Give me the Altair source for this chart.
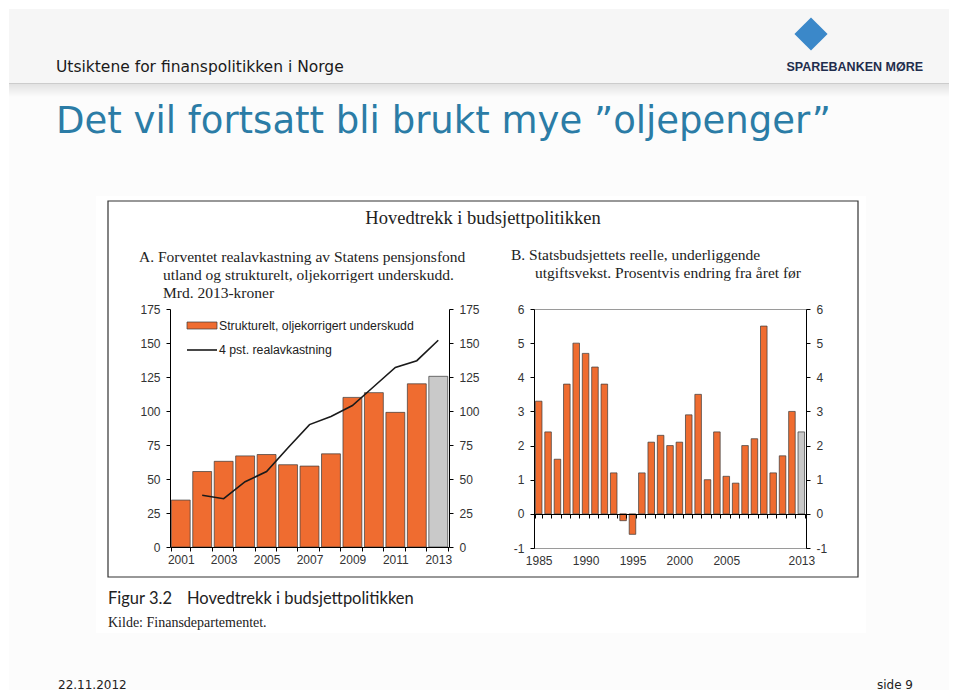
import altair as alt
import pandas as pd

# ---------------- data ----------------
years_a = list(range(2001, 2014))
deficit = [34.5, 55.5, 63, 67, 68, 60.5, 59.5, 68.5, 110, 113.5, 99, 120, 125.5]
kind_a = ["hist"] * 12 + ["proj"]
line_years = list(range(2002, 2014))
real_return = [38, 35.5, 48, 55.5, 73, 90, 96, 104, 118, 132, 137, 152]

years_b = list(range(1985, 2014))
growth = [3.3, 2.4, 1.6, 3.8, 5.0, 4.7, 4.3, 3.8, 1.2, -0.2, -0.6, 1.2, 2.1, 2.3,
          2.0, 2.1, 2.9, 3.5, 1.0, 2.4, 1.1, 0.9, 2.0, 2.2, 5.5, 1.2, 1.7, 3.0, 2.4]
kind_b = ["hist"] * 28 + ["proj"]

ticks_a = [0, 25, 50, 75, 100, 125, 150, 175]
ticks_b = [-1, 0, 1, 2, 3, 4, 5, 6]
labels_b = [1985, 1990, 1995, 2000, 2005, 2013]

header = "Utsiktene for finanspolitikken i Norge"
slide_title = "Det vil fortsatt bli brukt mye \u201doljepenger\u201d"
fig_title = "Hovedtrekk i budsjettpolitikken"
a_lines = ["A. Forventet realavkastning av Statens pensjonsfond",
           "utland og strukturelt, oljekorrigert underskudd.",
           "Mrd. 2013-kroner"]
b_lines = ["B. Statsbudsjettets reelle, underliggende",
           "utgiftsvekst. Prosentvis endring fra \u00e5ret f\u00f8r"]
legend_labels = ["Strukturelt, oljekorrigert underskudd", "4 pst. realavkastning"]
caption_1 = "Figur 3.2"
caption_2 = "Hovedtrekk i budsjettpolitikken"
source = "Kilde: Finansdepartementet."
footer_date = "22.11.2012"
footer_page = "side 9"
logo = "SPAREBANKEN M\u00d8RE"

df_a = pd.DataFrame({"year": years_a, "value": deficit, "kind": kind_a})
df_line = pd.DataFrame({"year": line_years, "value": real_return})
df_b = pd.DataFrame({"year": years_b, "value": growth, "kind": kind_b})
one = pd.DataFrame({"k": [0]})

# ---------------- styling / layout ----------------
ORANGE = "#EF6C30"
GRAY = "#C9C9C9"
EDGE = "#3a3a3a"
BLUE = "#2b7ca6"
SANS = "Liberation Sans"
SERIF = "Liberation Serif"
SLIDE = "DejaVu Sans"

OX, OY = 169, 308          # page position of panel A's plot origin
A_W, A_H = 279, 238
B_W, B_H = 272, 239
GAP = 85

color_scale = alt.Scale(domain=["hist", "proj"], range=[ORANGE, GRAY])


def vx(x):
    return alt.value(x - OX)


def vy(y):
    return alt.value(y - OY)


def txt(s, x, y, size, font, color="#222222", align="left", weight="normal"):
    return alt.Chart(one).mark_text(
        text=s, align=align, baseline="alphabetic", font=font,
        fontSize=size, color=color, fontWeight=weight
    ).encode(x=vx(x), y=vy(y))


def box(x1, y1, x2, y2, **kw):
    return alt.Chart(one).mark_rect(**kw).encode(
        x=vx(x1), x2=vx(x2), y=vy(y1), y2=vy(y2))


def hline(x1, x2, y, **kw):
    return alt.Chart(one).mark_rule(**kw).encode(x=vx(x1), x2=vx(x2), y=vy(y))


shadow = alt.LinearGradient(
    gradient="linear",
    stops=[alt.GradientStop(color="#e2e2e2", offset=0),
           alt.GradientStop(color="#fcfcfc", offset=1)],
    x1=0, x2=0, y1=0, y2=1)

decor_back = [
    box(8, 8, 948, 689, color="#fcfcfc"),
    box(8, 8, 948, 82, color="#f6f6f6"),
    box(8, 83, 948, 96, color=shadow),
    hline(8, 948, 82.5, color="#cccccc", strokeWidth=1),
    box(95, 195, 865, 632, color="#ffffff"),
    box(107, 200, 857, 576, fillOpacity=0, stroke="#333333", strokeWidth=1.2),
]

logo_icon = alt.Chart(one).mark_point(
    shape="diamond", filled=True, color="#3b88c9", size=1100, opacity=1
).encode(x=vx(810), y=vy(33))

decor_text = [
    txt(header, 55, 71, 15.5, SLIDE, color="#1a1a1a"),
    txt(slide_title, 55, 132, 37, SLIDE, color=BLUE),
    logo_icon,
    txt(logo, 922, 70, 12.5, SANS, color="#1f2d4d", align="right", weight="bold"),
    txt(fig_title, 482, 223, 18.5, SERIF, align="center"),
    txt(a_lines[0], 138, 261, 15.5, SERIF),
    txt(a_lines[1], 162, 279, 15.5, SERIF),
    txt(a_lines[2], 162, 297, 15.5, SERIF),
    txt(b_lines[0], 510, 259, 15.5, SERIF),
    txt(b_lines[1], 534, 277, 15.5, SERIF),
    txt(caption_1, 107, 603, 16.5, "Lato"),
    txt(caption_2, 186, 603, 16.5, "Lato"),
    txt(source, 107, 626, 14, SERIF),
    txt(footer_date, 57, 688, 12, SLIDE, color="#222222"),
    txt(footer_page, 912, 688, 12, SLIDE, color="#222222", align="right"),
    # legend of panel A
    box(186, 321, 216, 328, color=ORANGE, stroke=EDGE, strokeWidth=0.7),
    hline(186, 216, 349, color="#1a1a1a", strokeWidth=1.6),
    txt(legend_labels[0], 218, 329, 12.3, SANS),
    txt(legend_labels[1], 218, 353, 12.3, SANS),
]

# ---------------- panel A ----------------
y_a = alt.Scale(domain=[0, 175], nice=False)
x_a = alt.Scale(paddingInner=0.12, paddingOuter=0.06)

bars_a = alt.Chart(df_a).mark_bar(stroke=EDGE, strokeWidth=0.7).encode(
    x=alt.X("year:O", scale=x_a, axis=alt.Axis(
        title=None, labelAngle=0, tickBand="extent", labelPadding=3,
        labelExpr="datum.value % 2 == 1 ? datum.label : ''", zindex=1)),
    y=alt.Y("value:Q", scale=y_a, axis=alt.Axis(
        orient="left", values=ticks_a, title=None, labelPadding=6, zindex=1)),
    color=alt.Color("kind:N", scale=color_scale, legend=None),
)

line_a = alt.Chart(df_line).mark_line(color="#1a1a1a", strokeWidth=1.6).encode(
    x=alt.X("year:O", scale=x_a),
    y=alt.Y("value:Q", scale=y_a, axis=alt.Axis(
        orient="right", values=ticks_a, title=None, labelPadding=6, zindex=1)),
)

panel_a = alt.layer(*decor_back, bars_a, line_a, *decor_text).resolve_axis(
    y="independent"
).properties(width=A_W, height=A_H, view=alt.ViewBackground(stroke="transparent"))

# ---------------- panel B ----------------
y_b = alt.Scale(domain=[-1, 6], nice=False)
x_b = alt.Scale(paddingInner=0.3, paddingOuter=0.15)
label_test = "indexof([" + ",".join(str(v) for v in labels_b) + "], datum.value) >= 0 ? datum.label : ''"
plain_num = "'' + datum.value"

bars_b = alt.Chart(df_b).mark_bar(stroke=EDGE, strokeWidth=0.7).encode(
    x=alt.X("year:O", scale=x_b, axis=alt.Axis(
        title=None, labelAngle=0, tickBand="extent", offset=-34,
        labelPadding=37, labelExpr=label_test, zindex=1)),
    y=alt.Y("value:Q", scale=y_b, axis=alt.Axis(
        orient="left", values=ticks_b, title=None, labelExpr=plain_num,
        labelPadding=6, zindex=1)),
    color=alt.Color("kind:N", scale=color_scale, legend=None),
)

ghost_b = alt.Chart(df_b).mark_bar(opacity=0).encode(
    x=alt.X("year:O", scale=x_b),
    y=alt.Y("value:Q", scale=y_b, axis=alt.Axis(
        orient="right", values=ticks_b, title=None, labelExpr=plain_num,
        labelPadding=6, zindex=1)),
)

panel_b = alt.layer(bars_b, ghost_b).resolve_axis(y="independent").properties(
    width=B_W, height=B_H, view=alt.ViewBackground(stroke="#9a9a9a", strokeWidth=1))

chart = alt.hconcat(panel_a, panel_b, spacing=GAP, bounds="flush").properties(
    padding=0, background="#ffffff"
).configure_axis(
    labelFont=SANS, labelFontSize=12, labelColor="#333333",
    domainColor="#000000", tickColor="#000000", tickSize=4,
    domainWidth=1, tickWidth=1, grid=False,
)

chart.save("out.html", embed_options={"renderer": "svg", "actions": False})
